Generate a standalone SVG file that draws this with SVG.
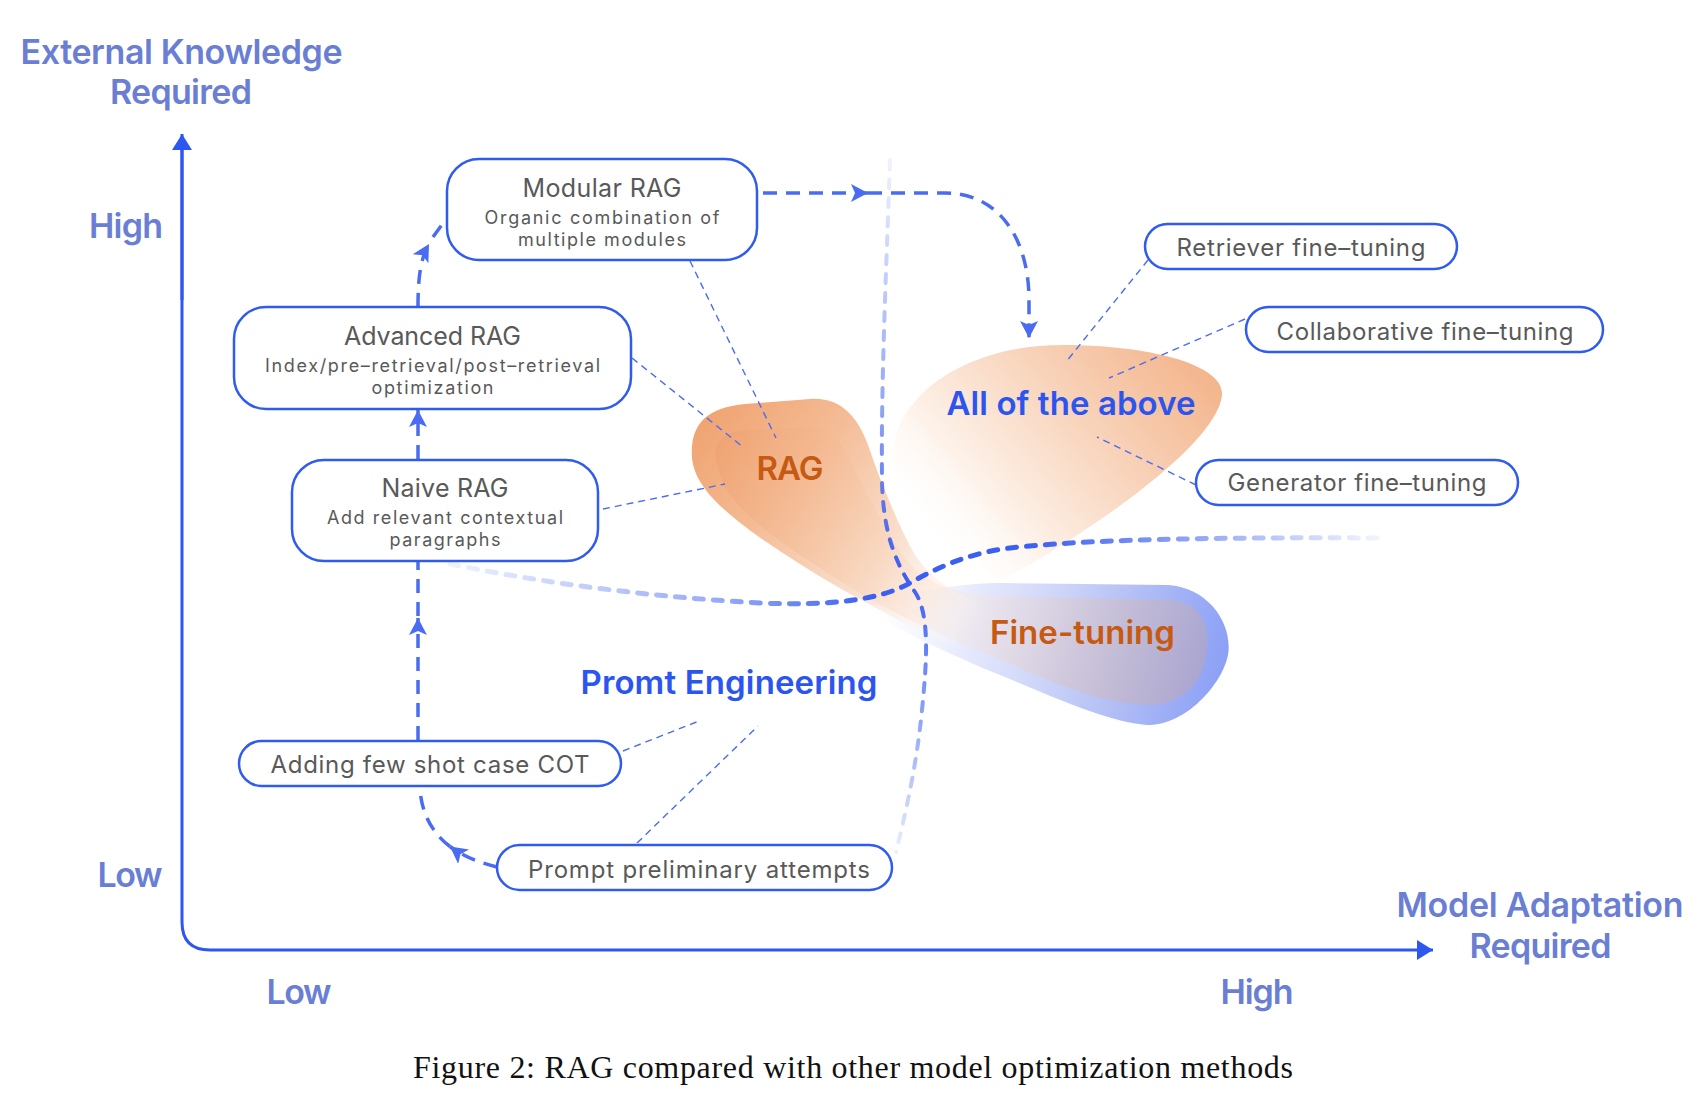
<svg xmlns="http://www.w3.org/2000/svg" width="1702" height="1097" viewBox="0 0 1702 1097">
<defs>
<style>
.ax{fill:none;stroke:#2d57f0;stroke-width:3}
.axl{font-family:Inter,"Noto Sans",sans-serif;font-weight:600;font-size:34px;fill:#6a7fd4;text-anchor:middle}
.box{fill:#fff;stroke:#2f5bef;stroke-width:2.5}
.t{font-family:Inter,"Noto Sans",sans-serif;fill:#595959;text-anchor:middle}
.tt{font-size:25px}
.ts{font-size:18px}
.tp{font-size:24px}
.flow{fill:none;stroke:#4a6cf1;stroke-width:3.5;stroke-dasharray:14 9}
.lead{fill:none;stroke:#4a6cf1;stroke-width:1.4;stroke-dasharray:7 5}
.big{font-family:Inter,"Noto Sans",sans-serif;font-weight:600;font-size:33px;text-anchor:middle}
.blue{fill:#2c55ef}
.orange{fill:#c65a12}
.bd{fill:none;stroke-dasharray:9 10;stroke-linecap:round}
.cap{font-family:"Liberation Serif","Times New Roman",serif;font-size:32px;fill:#111;text-anchor:middle}
</style>
<marker id="axArrow" viewBox="0 0 16 20" refX="16" refY="10" markerWidth="16" markerHeight="20" orient="auto" markerUnits="userSpaceOnUse">
<path d="M0,0 L16,10 L0,20 Z" fill="#2d57f0"/>
</marker>
<marker id="flowArrow" viewBox="0 0 17 20" refX="17" refY="10" markerWidth="17" markerHeight="20" orient="auto" markerUnits="userSpaceOnUse">
<path d="M0,1 L17,10 L0,19 L4,10 Z" fill="#4a6cf1"/>
</marker>
<linearGradient id="gAll" gradientUnits="userSpaceOnUse" x1="1195" y1="345" x2="945" y2="565">
<stop offset="0" stop-color="#f3b389"/>
<stop offset="0.4" stop-color="#f8d3ba"/>
<stop offset="0.75" stop-color="#fdf1e8"/>
<stop offset="1" stop-color="#ffffff" stop-opacity="0"/>
</linearGradient>
<linearGradient id="gRag" gradientUnits="userSpaceOnUse" x1="700" y1="425" x2="965" y2="645">
<stop offset="0" stop-color="#f0a472"/>
<stop offset="0.3" stop-color="#f4bb94"/>
<stop offset="0.68" stop-color="#fae2d2"/>
<stop offset="1" stop-color="#ffffff" stop-opacity="0"/>
</linearGradient>
<linearGradient id="gFt" gradientUnits="userSpaceOnUse" x1="880" y1="600" x2="1225" y2="680">
<stop offset="0" stop-color="#eef1fe" stop-opacity="0"/>
<stop offset="0.25" stop-color="#e3e7fc" stop-opacity="0.85"/>
<stop offset="0.7" stop-color="#b3bff5"/>
<stop offset="1" stop-color="#8a9ff6"/>
</linearGradient>
<linearGradient id="gIn" gradientUnits="userSpaceOnUse" x1="715" y1="440" x2="1205" y2="665">
<stop offset="0" stop-color="#ef9f6c" stop-opacity="0.6"/>
<stop offset="0.3" stop-color="#f6c6a4" stop-opacity="0.45"/>
<stop offset="0.55" stop-color="#fbe6d8" stop-opacity="0.3"/>
<stop offset="0.8" stop-color="#e6b696" stop-opacity="0.3"/>
<stop offset="1" stop-color="#dca47e" stop-opacity="0.32"/>
</linearGradient>
<linearGradient id="gH" gradientUnits="userSpaceOnUse" x1="450" y1="0" x2="1385" y2="0">
<stop offset="0" stop-color="#3b5ff0" stop-opacity="0.08"/>
<stop offset="0.3" stop-color="#3b5ff0" stop-opacity="0.55"/>
<stop offset="0.45" stop-color="#3b5ff0" stop-opacity="1"/>
<stop offset="0.62" stop-color="#3b5ff0" stop-opacity="1"/>
<stop offset="0.8" stop-color="#3b5ff0" stop-opacity="0.55"/>
<stop offset="1" stop-color="#3b5ff0" stop-opacity="0.05"/>
</linearGradient>
<linearGradient id="gV" gradientUnits="userSpaceOnUse" x1="0" y1="160" x2="0" y2="852">
<stop offset="0" stop-color="#3b5ff0" stop-opacity="0.08"/>
<stop offset="0.35" stop-color="#3b5ff0" stop-opacity="0.55"/>
<stop offset="0.6" stop-color="#3b5ff0" stop-opacity="1"/>
<stop offset="0.75" stop-color="#3b5ff0" stop-opacity="0.7"/>
<stop offset="1" stop-color="#3b5ff0" stop-opacity="0.1"/>
</linearGradient>
</defs>
<rect width="1702" height="1097" fill="#ffffff"/>

<g id="regions">
<path id="region-all-shape" d="M1003 580 C950 560,895 520,893 460 C891 400,960 345,1063 345 C1150 345,1225 365,1222 395 C1218 440,1110 520,1003 580 Z" fill="url(#gAll)"/>
<path id="region-ft-shape" d="M862 608 C915 590,960 583,1003 583 L1168 585 C1210 588,1233 625,1228 655 C1222 685,1185 726,1147 725 C1110 722,1060 700,1000 675 C950 655,905 633,862 608 Z" fill="url(#gFt)"/>
<path id="region-rag-shape" d="M692 458 C690 425,705 408,745 404 L810 399 C842 397,858 418,868 445 C882 485,898 525,915 555 C935 585,970 600,1000 615 L1000 665 C960 652,920 632,867 603 C820 578,760 540,733 517 C712 500,694 480,692 458 Z" fill="url(#gRag)"/>
<path id="region-inner" d="M717 463 C712 445,720 432,745 430 L810 427 C830 427,840 440,850 460 C865 490,885 530,905 558 C925 585,960 595,1003 596 L1170 600 C1200 602,1210 625,1207 650 C1204 680,1185 705,1147 705 C1100 703,1050 682,1013 665 C980 650,950 640,900 615 C860 595,830 575,800 555 C770 535,740 510,730 495 C722 484,719 473,717 463 Z" fill="url(#gIn)"/>
</g>

<g id="boundaries">
<path d="M450 564 C520 578,620 595,760 603 C830 606,880 600,910 583 C940 566,970 553,1010 548 C1080 540,1200 537,1385 538" class="bd" stroke="url(#gH)" stroke-width="5"/>
<path d="M890 160 C886 280,881 380,882 480 C883 540,900 570,915 592 C930 615,927 660,922 710 C916 770,905 815,896 852" class="bd" stroke="url(#gV)" stroke-width="4"/>
</g>

<g id="axes">
<path class="ax" d="M182 149 V922 Q182 950 210 950 H1433" marker-end="url(#axArrow)"/>
<path class="ax" d="M182 300 V134" marker-end="url(#axArrow)"/>
<text class="axl" x="181.5" y="64" textLength="322">External Knowledge</text>
<text class="axl" x="181" y="104" textLength="142">Required</text>
<text class="axl" x="126" y="238" textLength="74">High</text>
<text class="axl" x="130" y="887" textLength="65">Low</text>
<text class="axl" x="299" y="1004" textLength="65">Low</text>
<text class="axl" x="1257" y="1004" textLength="73">High</text>
<text class="axl" x="1540" y="917" textLength="287">Model Adaptation</text>
<text class="axl" x="1540.5" y="958" textLength="142">Required</text>
</g>

<g id="connectors">
<path class="flow" d="M418 740 V618" marker-end="url(#flowArrow)"/>
<path class="flow" d="M418 616 V562"/>
<path class="flow" d="M418 459 V410" marker-end="url(#flowArrow)"/>
<path class="flow" d="M418 307 C418 275,421 258,429 244" marker-end="url(#flowArrow)"/>
<path class="flow" d="M433 237 L446 219"/>
<path class="flow" d="M497 867 Q468 860 450 846.5" marker-end="url(#flowArrow)"/>
<path class="flow" d="M450 846.5 Q423 826 420 790"/>
<path class="flow" d="M763 193 H868" marker-end="url(#flowArrow)"/>
<path class="flow" d="M868 193 H945 C1000 193,1029 240,1029 300 V338" marker-end="url(#flowArrow)"/>
<path class="lead" d="M690 261 L776 438"/>
<path class="lead" d="M632 358 L743 447"/>
<path class="lead" d="M603 509 L725 484"/>
<path class="lead" d="M1148 260 L1066 362"/>
<path class="lead" d="M1245 319 L1109 378"/>
<path class="lead" d="M1196 485 L1097 437"/>
<path class="lead" d="M623 751 L699 721"/>
<path class="lead" d="M637 843 L758 726"/>
</g>

<g id="label-rag"><text class="big orange" x="790" y="480" textLength="67">RAG</text></g>
<g id="label-all"><text class="big blue" x="1071" y="415" textLength="249">All of the above</text></g>
<g id="label-ft"><text class="big orange" x="1082.5" y="643.5" textLength="185">Fine-tuning</text></g>
<g id="label-pe"><text class="big blue" x="729" y="693.5" textLength="297">Promt Engineering</text></g>

<g id="node-modular">
<rect class="box" x="447" y="159" width="310" height="101" rx="32"/>
<text class="t tt" x="602" y="197" textLength="159">Modular RAG</text>
<text class="t ts" x="602" y="224" textLength="235">Organic combination of</text>
<text class="t ts" x="602" y="246" textLength="168">multiple modules</text>
</g>
<g id="node-advanced">
<rect class="box" x="234" y="307" width="397" height="102" rx="32"/>
<text class="t tt" x="432.5" y="345" textLength="177">Advanced RAG</text>
<text class="t ts" x="432.5" y="372" textLength="335">Index/pre–retrieval/post–retrieval</text>
<text class="t ts" x="432.5" y="394" textLength="122">optimization</text>
</g>
<g id="node-naive">
<rect class="box" x="292" y="460" width="306" height="101" rx="32"/>
<text class="t tt" x="445" y="497" textLength="127">Naive RAG</text>
<text class="t ts" x="445" y="524" textLength="236">Add relevant contextual</text>
<text class="t ts" x="445" y="546" textLength="111">paragraphs</text>
</g>
<g id="node-cot">
<rect class="box" x="239" y="741" width="382" height="45" rx="22.5"/>
<text class="t tp" x="430" y="772.5" textLength="319">Adding few shot case COT</text>
</g>
<g id="node-prompt">
<rect class="box" x="497" y="845" width="395" height="45" rx="22.5"/>
<text class="t tp" x="699" y="877.5" textLength="342">Prompt preliminary attempts</text>
</g>
<g id="node-retriever">
<rect class="box" x="1145" y="224" width="312" height="45" rx="22.5"/>
<text class="t tp" x="1301" y="256" textLength="249">Retriever fine–tuning</text>
</g>
<g id="node-collab">
<rect class="box" x="1246" y="307" width="357" height="45" rx="22.5"/>
<text class="t tp" x="1425" y="339.5" textLength="297">Collaborative fine–tuning</text>
</g>
<g id="node-generator">
<rect class="box" x="1196" y="460" width="322" height="45" rx="22.5"/>
<text class="t tp" x="1357" y="491" textLength="259">Generator fine–tuning</text>
</g>

<text class="cap" x="853" y="1078" textLength="880">Figure 2: RAG compared with other model optimization methods</text>
</svg>
